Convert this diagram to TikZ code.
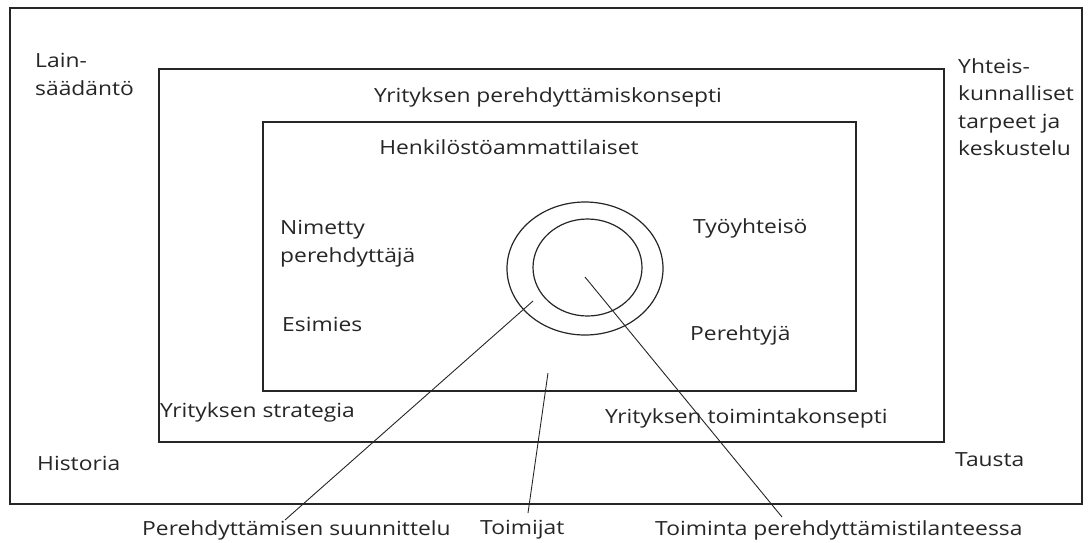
\documentclass[tikz,border=0pt]{standalone}
\usepackage{fontspec}
\setmainfont{Open Sans}
\begin{document}
\begin{tikzpicture}[x=1pt,y=-1pt,
  lbl/.style={inner sep=0pt, anchor=west, xscale=1.17, font=\fontsize{19.5}{27.5}\selectfont, text=black!85},
  box/.style={draw=black!85, line width=1.6pt},
  ring/.style={draw=black!85, line width=1.2pt},
  conn/.style={draw=black!85, line width=0.9pt}]
\useasboundingbox (0,0) rectangle (1092,542);
\fill[white] (0,0) rectangle (1092,542);
\draw[box] (10,8) rectangle (1082,504);
\draw[box] (159,69) rectangle (944,442);
\draw[box] (263,122) rectangle (856,391);
\draw[ring] (585,268.5) ellipse [x radius=78, y radius=66.5];
\draw[ring] (587.5,267.5) ellipse [x radius=54.5, y radius=48.5];
% labels
\node[lbl, align=left, anchor=north west] (lain) at (35,53) {Lain-\\säädäntö};
\node[lbl, align=left, anchor=north west] (yht) at (958,58) {Yhteis-\\kunnalliset\\tarpeet ja\\keskustelu};
\node[lbl, anchor=center] (ypk) at (548,97) {Yrityksen perehdyttämiskonsepti};
\node[lbl, anchor=center] (hen) at (509,147) {Henkilöstöammattilaiset};
\node[lbl, align=left, anchor=north west] (nim) at (280,220) {Nimetty\\perehdyttäjä};
\node[lbl] (tyo) at (693,228) {Työyhteisö};
\node[lbl] (esi) at (282,324) {Esimies};
\node[lbl] (per) at (690,335) {Perehtyjä};
\node[lbl] (str) at (160,412) {Yrityksen strategia};
\node[lbl] (tk) at (605,418) {Yrityksen toimintakonsepti};
\node[lbl] (his) at (37,463) {Historia};
\node[lbl] (tau) at (955,460) {Tausta};
\node[lbl] (suu) at (142,530) {Perehdyttämisen suunnittelu};
\node[lbl] (toi) at (480,530) {Toimijat};
\node[lbl] (tpt) at (655,530) {Toiminta perehdyttämistilanteessa};
% connectors
\coordinate (c1) at (533,301);
\coordinate (e1) at (285,520);
\coordinate (c2) at (585,277);
\coordinate (e2) at (782,517);
\coordinate (c3) at (548,373);
\coordinate (e3) at (528,513);
\draw[conn] (c1) -- (e1);
\draw[conn] (c2) -- (e2);
\draw[conn] (c3) -- (e3);
\end{tikzpicture}
\end{document}
